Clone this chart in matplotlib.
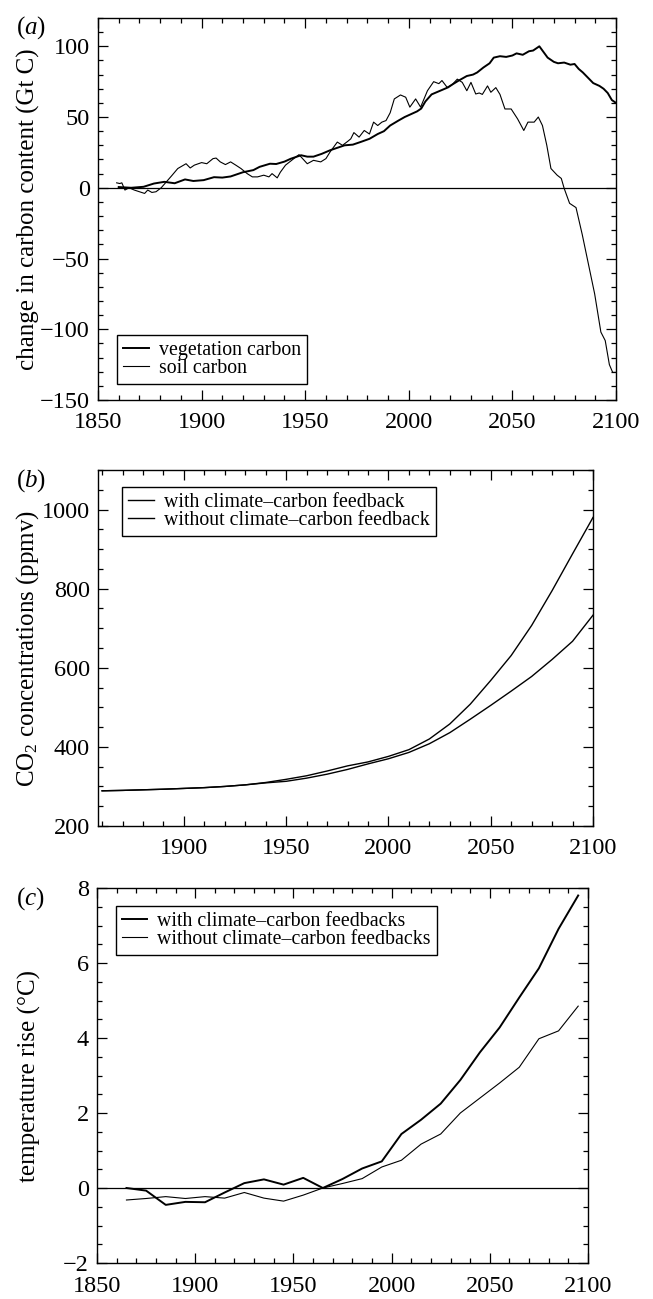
import matplotlib
matplotlib.use('Agg')
import matplotlib.pyplot as plt
from matplotlib.ticker import MultipleLocator

plt.rcParams['font.family'] = ['Liberation Serif', 'DejaVu Serif']
plt.rcParams['mathtext.fontset'] = 'custom'
plt.rcParams['mathtext.rm'] = 'Liberation Serif'
plt.rcParams['mathtext.it'] = 'Liberation Serif:italic'

# (a) change in land carbon stores
veg_years = [1860, 1866, 1872, 1877, 1882, 1887, 1892, 1896, 1901, 1906, 1910, 1914,
             1920, 1925, 1928, 1933, 1936, 1940, 1943, 1948, 1951, 1954, 1958, 1962,
             1966, 1969, 1973, 1977, 1981, 1985, 1988, 1991, 1995, 1998, 2001, 2004,
             2006, 2008, 2011, 2015, 2019, 2021, 2024, 2028, 2031, 2033, 2036, 2039,
             2041, 2044, 2047, 2050, 2052, 2055, 2058, 2060, 2063, 2065, 2067, 2070,
             2072, 2075, 2078, 2080, 2082, 2084, 2087, 2089, 2092, 2094, 2096, 2098, 2100]
veg_carbon = [0.5, 0, 0.7, 3, 4.2, 3.2, 5.9, 4.8, 5.4, 7.5, 7.2, 8,
              11, 12.5, 14.8, 17, 16.8, 18.5, 20.5, 23, 22, 22, 24, 26.5,
              28.5, 30, 30.5, 32.5, 34.6, 38, 40, 44, 47.5, 50, 52, 54,
              56, 61, 66, 68.5, 71, 73, 75.7, 79, 80, 81.5, 85, 88,
              92, 93, 92.5, 93.5, 95, 94, 96.5, 97, 100, 96, 92, 89,
              88, 88.5, 87, 87.5, 84, 81.5, 77, 74, 72, 70, 67, 62, 60]

soil_years = [1859, 1860.5, 1861.5, 1863, 1865, 1867.5, 1870, 1872.5, 1874, 1876, 1878,
              1880.5, 1883, 1885.5, 1888.5, 1892.5, 1894.5, 1896.5, 1900, 1902.5, 1905.5,
              1907, 1909, 1911.5, 1914, 1916.5, 1919, 1922, 1924.5, 1927, 1930, 1932.5,
              1934, 1936.5, 1938, 1940.5, 1944.5, 1947, 1949.5, 1951, 1954, 1957.5, 1960,
              1962, 1965.5, 1968, 1970.5, 1972, 1973.5, 1976, 1978.5, 1981, 1983, 1985,
              1987, 1989, 1991, 1993, 1996, 1998.5, 2000.5, 2003.3, 2005.7, 2009, 2012,
              2014.5, 2016, 2018.5, 2021, 2023.4, 2025.8, 2028, 2030, 2032.3, 2034,
              2035.5, 2038, 2039.6, 2042, 2044, 2046.4, 2049.4, 2052.5, 2055.5, 2057.5,
              2060.5, 2062.5, 2064.5, 2066.6, 2068.6, 2071.6, 2073.6, 2075, 2077.6,
              2080.7, 2083.7, 2086.7, 2089.7, 2092.7, 2094.8, 2096.8, 2098.4, 2100]
soil_carbon = [3.5, 3, 3.5, -1.6, 0, -1.6, -2.8, -4, -1.6, -3.3, -2.8,
               0, 4.2, 8.4, 13.6, 17, 14, 16, 17.8, 17, 20.6,
               21, 18.3, 16.4, 18.3, 16, 13.6, 10, 7.7, 7.7, 8.9, 7.7,
               10, 7, 11, 16, 20.6, 23.4, 19.4, 17, 19.4, 18.3, 20.6,
               25.3, 32.3, 30, 32.8, 34.6, 39, 35.8, 40.5, 38, 46.4, 44,
               46.4, 47.5, 53, 62.8, 65.6, 64, 57, 62.8, 57, 68.6, 75,
               73.6, 75.8, 71, 73, 76.8, 74.5, 68.6, 74.5, 66.3, 67,
               66, 72, 67.5, 70.8, 66, 55.7, 55.7, 48.7, 40.5, 46.4,
               46.4, 50, 44, 30, 13.6, 8.9, 6.6, -0.5, -11,
               -14, -33, -54, -75, -102, -108, -125, -130.5, -130.5]

# (b) atmospheric CO2
co2_years = [1860, 1870, 1880, 1890, 1900, 1910, 1920, 1930, 1940, 1950, 1960, 1970,
             1980, 1990, 2000, 2010, 2020, 2030, 2040, 2050, 2060, 2070, 2080, 2090, 2100]
co2_with = [289, 290, 291.5, 293, 295, 297, 300, 304, 310, 318, 327, 339,
            352, 362, 376, 393, 420, 458, 508, 568, 631, 707, 795, 888, 980]
co2_without = [289, 290, 291.5, 293, 295, 297, 300, 304, 309, 313, 321, 331,
               343, 357, 370, 386, 408, 436, 470, 505, 541, 578, 621, 667, 733]

# (c) global mean temperature rise
t_years = [1865, 1875, 1885, 1895, 1905, 1915, 1925, 1935, 1945, 1955, 1965, 1975,
           1985, 1995, 2005, 2015, 2025, 2035, 2045, 2055, 2065, 2075, 2085, 2095]
t_with = [0.0, -0.07, -0.45, -0.37, -0.38, -0.12, 0.13, 0.23, 0.09, 0.27, 0.0, 0.24,
          0.52, 0.71, 1.44, 1.82, 2.25, 2.88, 3.62, 4.28, 5.08, 5.86, 6.91, 7.8]
t_without = [-0.32, -0.28, -0.23, -0.28, -0.23, -0.27, -0.12, -0.27, -0.35, -0.19, 0.0, 0.12,
             0.25, 0.56, 0.74, 1.17, 1.44, 2.0, 2.4, 2.8, 3.22, 3.98, 4.19, 4.85]

W, H = 653, 1299
fig = plt.figure(figsize=(W / 100, H / 100), dpi=100)


def px_axes(left, top, right, bottom):
    return fig.add_axes([left / W, 1 - bottom / H, (right - left) / W, (bottom - top) / H])


def style(ax, xmaj, xmin, ymaj, ymin):
    ax.xaxis.set_major_locator(MultipleLocator(xmaj))
    ax.xaxis.set_minor_locator(MultipleLocator(xmin))
    ax.yaxis.set_major_locator(MultipleLocator(ymaj))
    ax.yaxis.set_minor_locator(MultipleLocator(ymin))
    ax.tick_params(which='both', direction='in', top=True, right=True, width=0.9,
                   labelsize=17.5)
    ax.tick_params(which='major', length=7)
    ax.tick_params(which='minor', length=3.5)
    ax.tick_params(axis='x', pad=9)
    ax.tick_params(axis='y', pad=6)
    for s in ax.spines.values():
        s.set_linewidth(1.0)


leg_kw = dict(fontsize=14.3, frameon=True, fancybox=False, edgecolor='black',
              framealpha=1, handlelength=1.3, handletextpad=0.5, borderpad=0.3,
              labelspacing=-0.05, borderaxespad=0)

# panel (a)
ax1 = px_axes(98, 18, 616, 400)
ax1.plot(veg_years, veg_carbon, color='black', lw=1.4, label='vegetation carbon')
ax1.plot(soil_years, soil_carbon, color='black', lw=0.8, label='soil carbon')
ax1.axhline(0, color='black', lw=0.9)
ax1.set_xlim(1850, 2100)
ax1.set_ylim(-150, 120)
style(ax1, 50, 10, 50, 10)
ax1.set_ylabel('change in carbon content (Gt C)', fontsize=18)
ax1.yaxis.set_label_coords(-0.112, 0.5)
leg = ax1.legend(loc='lower left', bbox_to_anchor=(0.037, 0.042), **leg_kw)
leg.get_frame().set_linewidth(1.0)

# panel (b)
ax2 = px_axes(98, 470, 593, 826)
ax2.plot(co2_years, co2_with, color='black', lw=1.0, label='with climate\u2013carbon feedback')
ax2.plot(co2_years, co2_without, color='black', lw=1.0, label='without climate\u2013carbon feedback')
ax2.set_xlim(1858, 2100)
ax2.set_ylim(200, 1100)
style(ax2, 50, 10, 200, 50)
ax2.set_ylabel(r'CO$_2$ concentrations (ppmv)', fontsize=18)
ax2.yaxis.set_label_coords(-0.115, 0.5)
leg = ax2.legend(loc='upper left', bbox_to_anchor=(0.049, 0.953), **leg_kw)
leg.get_frame().set_linewidth(1.0)

# panel (c)
ax3 = px_axes(97, 888, 588, 1263)
ax3.plot(t_years, t_with, color='black', lw=1.4, label='with climate\u2013carbon feedbacks')
ax3.plot(t_years, t_without, color='black', lw=0.8, label='without climate\u2013carbon feedbacks')
ax3.axhline(0, color='black', lw=0.9)
ax3.set_xlim(1850, 2100)
ax3.set_ylim(-2, 8)
style(ax3, 50, 10, 2, 0.5)
ax3.set_ylabel('temperature rise (\u00b0C)', fontsize=18)
ax3.yaxis.set_label_coords(-0.115, 0.5)
leg = ax3.legend(loc='upper left', bbox_to_anchor=(0.038, 0.951), **leg_kw)
leg.get_frame().set_linewidth(1.0)

for letter, top in [('a', 14), ('b', 467), ('c', 885)]:
    fig.text(16 / W, 1 - top / H, r'($\it{%s}$)' % letter, fontsize=18, va='top', ha='left')

fig.savefig('out.png', dpi=100)
